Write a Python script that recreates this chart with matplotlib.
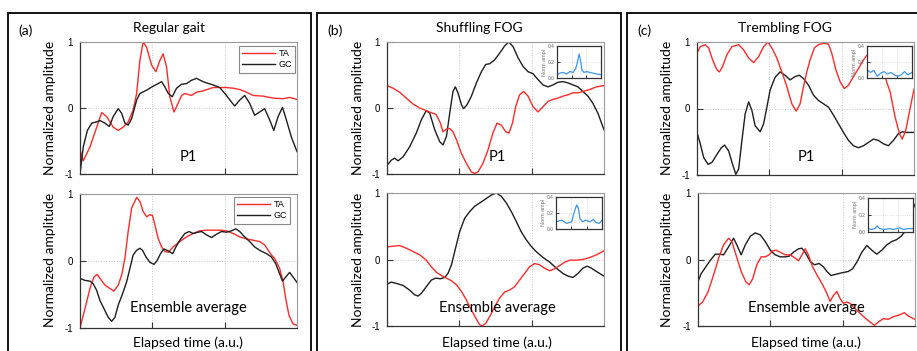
import matplotlib
matplotlib.use('Agg')
import matplotlib.pyplot as plt
from matplotlib.patches import Rectangle

# ---------------- data (normalized elapsed time 0..1, normalized amplitude) ----------------
a1_ta_t = [0, .015, .046, .077, .100, .123, .153, .176, .199, .222, .245, .261, .276, .291, .307, .330, .350, .368, .383, .399,
           .414, .433, .445, .468, .483, .514, .537, .567, .613, .675, .706, .736, .767, .798, .844, .890, .936, .966, 1.0]
a1_ta_y = [-0.64, -0.80, -0.59, -0.29, -0.07, -0.13, -0.29, -0.34, -0.29, -0.21, -0.03, 0.22, 0.72, 1.0, 0.92, 0.65, 0.55, 0.72, 0.82, 0.62,
           0.17, -0.06, 0.02, 0.19, 0.22, 0.19, 0.24, 0.26, 0.31, 0.31, 0.30, 0.28, 0.24, 0.19, 0.18, 0.15, 0.14, 0.16, 0.13]
a1_gc_t = [0, .015, .034, .054, .077, .092, .115, .135, .153, .176, .192, .207, .222, .238, .261, .276, .307, .337, .360, .376,
           .391, .407, .425, .445, .468, .491, .514, .537, .560, .583, .613, .644, .675, .698, .713, .736, .759, .782, .805, .828,
           .851, .874, .893, .913, .933, .951, .974, 1.0]
a1_gc_y = [-1.0, -0.59, -0.34, -0.23, -0.21, -0.19, -0.23, -0.28, -0.13, -0.01, -0.08, -0.23, -0.26, -0.16, 0.12, 0.22, 0.27, 0.33, 0.37, 0.40,
           0.32, 0.22, 0.17, 0.30, 0.36, 0.37, 0.42, 0.45, 0.41, 0.38, 0.35, 0.31, 0.19, 0.09, 0.03, 0.12, 0.19, 0.07, -0.11, -0.06,
           -0.01, -0.18, -0.34, -0.13, 0.01, -0.18, -0.44, -0.66]

a2_ta_t = [0, .023, .046, .064, .080, .092, .115, .138, .156, .176, .192, .207, .222, .238, .261, .276, .291, .307, .322, .334,
           .345, .360, .376, .391, .407, .429, .460, .491, .521, .552, .583, .613, .644, .675, .706, .736, .767, .798, .828, .851,
           .867, .882, .897, .920, .936, .948, .963, .982, 1.0]
a2_ta_y = [-1.0, -0.71, -0.41, -0.24, -0.20, -0.26, -0.36, -0.41, -0.45, -0.36, -0.21, 0.04, 0.44, 0.79, 0.95, 0.89, 0.74, 0.66, 0.69, 0.68,
           0.54, 0.34, 0.21, 0.14, 0.13, 0.21, 0.29, 0.36, 0.41, 0.45, 0.46, 0.46, 0.46, 0.45, 0.41, 0.36, 0.33, 0.31, 0.29, 0.24,
           0.16, 0.09, 0.04, -0.11, -0.31, -0.56, -0.81, -0.94, -0.96]
a2_gc_t = [0, .023, .046, .061, .077, .092, .115, .130, .146, .161, .176, .196, .215, .230, .245, .261, .276, .288, .304, .322,
           .341, .356, .371, .387, .407, .427, .442, .460, .483, .503, .521, .544, .560, .583, .606, .629, .652, .675, .698, .718,
           .736, .759, .782, .805, .828, .859, .882, .902, .920, .933, .948, .966, .982, 1.0]
a2_gc_y = [-0.26, -0.29, -0.30, -0.34, -0.44, -0.59, -0.74, -0.84, -0.90, -0.84, -0.66, -0.49, -0.31, -0.11, 0.09, 0.16, 0.19, 0.16, 0.06, -0.02,
           -0.05, 0.01, 0.11, 0.18, 0.15, 0.11, 0.21, 0.31, 0.41, 0.44, 0.41, 0.43, 0.44, 0.39, 0.35, 0.40, 0.44, 0.43, 0.45, 0.48,
           0.44, 0.36, 0.29, 0.21, 0.16, 0.11, 0.06, -0.04, -0.19, -0.30, -0.24, -0.17, -0.24, -0.32]

b1_gc_t = [0, .020, .035, .051, .074, .104, .135, .158, .181, .197, .220, .243, .258, .274, .289, .304, .315, .327, .343, .353,
           .369, .389, .412, .435, .455, .473, .496, .519, .542, .561, .581, .604, .627, .650, .673, .696, .719, .742, .765, .788,
           .811, .834, .857, .880, .903, .926, .949, .972, 1.0]
b1_gc_y = [-0.87, -0.79, -0.76, -0.80, -0.74, -0.59, -0.38, -0.18, -0.04, -0.08, -0.33, -0.51, -0.56, -0.43, -0.08, 0.25, 0.32, 0.23, 0.05, -0.01,
           0.05, 0.18, 0.38, 0.55, 0.66, 0.67, 0.73, 0.83, 0.94, 1.0, 0.93, 0.76, 0.63, 0.55, 0.52, 0.43, 0.35, 0.32, 0.35, 0.39,
           0.40, 0.38, 0.35, 0.32, 0.25, 0.18, 0.07, -0.08, -0.33]
b1_ta_t = [0, .028, .058, .089, .120, .151, .181, .204, .227, .246, .258, .274, .289, .304, .320, .343, .366, .389, .404, .419,
           .442, .465, .488, .507, .527, .547, .562, .578, .593, .611, .630, .650, .673, .696, .719, .742, .765, .788, .811, .834,
           .857, .880, .903, .934, .965, 1.0]
b1_ta_y = [0.34, 0.30, 0.24, 0.15, 0.06, 0.0, -0.04, -0.07, -0.10, -0.23, -0.36, -0.32, -0.31, -0.36, -0.48, -0.69, -0.84, -0.97, -0.99, -0.97,
           -0.84, -0.64, -0.38, -0.23, -0.26, -0.36, -0.38, -0.23, 0.02, 0.20, 0.25, 0.18, 0.02, -0.06, 0.02, 0.10, 0.13, 0.15, 0.18, 0.20,
           0.23, 0.23, 0.25, 0.28, 0.32, 0.34]

b2_gc_t = [0, .020, .043, .074, .104, .127, .143, .158, .181, .204, .224, .246, .266, .281, .297, .312, .335, .358, .381, .404,
           .427, .450, .481, .504, .527, .550, .573, .596, .618, .641, .664, .687, .719, .750, .780, .811, .834, .857, .880, .903,
           .922, .942, .965, 1.0]
b2_gc_y = [-0.37, -0.34, -0.36, -0.39, -0.46, -0.53, -0.55, -0.51, -0.41, -0.31, -0.28, -0.29, -0.27, -0.21, -0.08, 0.12, 0.42, 0.62, 0.72, 0.80,
           0.85, 0.90, 0.97, 1.0, 0.95, 0.85, 0.72, 0.57, 0.42, 0.30, 0.20, 0.12, 0.03, -0.04, -0.13, -0.21, -0.25, -0.27, -0.21, -0.13,
           -0.10, -0.13, -0.18, -0.25]
b2_ta_t = [0, .028, .058, .089, .120, .151, .181, .204, .227, .250, .274, .297, .320, .343, .366, .389, .409, .427, .439, .455,
           .473, .496, .519, .542, .565, .588, .611, .634, .657, .680, .703, .726, .750, .772, .796, .819, .842, .873, .903, .934,
           .965, 1.0]
b2_ta_y = [0.19, 0.20, 0.21, 0.17, 0.12, 0.07, -0.01, -0.11, -0.19, -0.24, -0.28, -0.32, -0.38, -0.48, -0.61, -0.76, -0.88, -0.98, -1.0, -0.96,
           -0.86, -0.71, -0.58, -0.49, -0.46, -0.41, -0.31, -0.21, -0.11, -0.06, -0.08, -0.13, -0.17, -0.14, -0.09, -0.04, -0.01, -0.01, 0.0, 0.03,
           0.07, 0.13]

c1_ta_t = [0, .015, .038, .054, .072, .092, .103, .118, .138, .161, .192, .215, .238, .261, .284, .307, .327, .345, .368, .391,
           .414, .437, .457, .475, .491, .506, .521, .541, .560, .583, .606, .621, .640, .660, .679, .698, .721, .744, .767, .790,
           .813, .836, .859, .874, .890, .913, .933, .946, .962, .977, 1.0]
c1_ta_y = [0.83, 0.93, 0.96, 0.91, 0.73, 0.58, 0.55, 0.63, 0.81, 0.93, 0.96, 0.88, 0.76, 0.69, 0.78, 0.93, 1.0, 0.91, 0.76, 0.55,
           0.33, 0.07, -0.04, 0.07, 0.33, 0.55, 0.73, 0.91, 0.96, 0.98, 0.97, 0.83, 0.58, 0.40, 0.30, 0.35, 0.48, 0.60, 0.73, 0.83,
           0.93, 0.88, 0.60, 0.40, 0.25, -0.13, -0.38, -0.46, -0.33, -0.08, 0.29]
c1_gc_t = [0, .015, .031, .051, .069, .092, .112, .127, .146, .164, .179, .192, .207, .222, .238, .253, .268, .291, .307, .322,
           .337, .360, .383, .406, .429, .452, .472, .491, .514, .537, .560, .583, .606, .629, .652, .675, .698, .721, .744, .767,
           .790, .813, .836, .859, .882, .905, .928, .946, .966, 1.0]
c1_gc_y = [-0.36, -0.53, -0.74, -0.84, -0.81, -0.69, -0.59, -0.55, -0.64, -0.84, -0.99, -0.91, -0.48, -0.08, 0.10, -0.03, -0.26, -0.35, -0.23, 0.02,
           0.28, 0.47, 0.55, 0.50, 0.43, 0.48, 0.50, 0.45, 0.35, 0.20, 0.12, 0.07, 0.02, -0.10, -0.23, -0.36, -0.48, -0.56, -0.59, -0.56,
           -0.51, -0.46, -0.48, -0.53, -0.56, -0.48, -0.38, -0.35, -0.36, -0.36]

c2_gc_t = [0, .015, .034, .057, .080, .103, .118, .141, .164, .179, .199, .218, .241, .264, .287, .310, .333, .356, .379, .402,
           .420, .440, .463, .479, .497, .517, .537, .558, .578, .594, .613, .639, .663, .693, .712, .732, .755, .778, .801, .824,
           .847, .870, .893, .916, .936, .954, .969, .985, 1.0]
c2_gc_y = [-0.33, -0.21, -0.12, -0.01, 0.08, 0.08, 0.07, 0.19, 0.32, 0.22, 0.07, 0.22, 0.35, 0.40, 0.37, 0.27, 0.14, 0.07, 0.04, 0.04,
           0.05, 0.11, 0.16, 0.17, 0.09, -0.03, -0.08, -0.06, -0.11, -0.18, -0.24, -0.22, -0.20, -0.18, -0.14, -0.04, 0.11, 0.21, 0.14, 0.08,
           0.14, 0.22, 0.27, 0.30, 0.35, 0.42, 0.57, 0.72, 0.83]
c2_ta_t = [0, .021, .046, .072, .095, .118, .141, .156, .175, .199, .221, .236, .252, .271, .291, .310, .328, .344, .359, .379,
           .402, .425, .448, .463, .479, .494, .509, .528, .548, .571, .594, .609, .624, .640, .655, .670, .686, .701, .724, .747,
           .770, .793, .813, .831, .854, .877, .900, .931, .951, .969, 1.0]
c2_ta_y = [-0.70, -0.64, -0.49, -0.23, 0.02, 0.22, 0.32, 0.27, 0.07, -0.18, -0.34, -0.38, -0.29, -0.08, 0.04, 0.04, 0.07, 0.13, 0.14, 0.11,
           0.07, 0.07, 0.02, -0.02, 0.07, 0.16, 0.07, -0.11, -0.23, -0.36, -0.51, -0.63, -0.54, -0.48, -0.59, -0.66, -0.64, -0.66, -0.74, -0.81,
           -0.88, -0.94, -0.99, -0.94, -0.89, -0.90, -0.86, -0.83, -0.80, -0.85, -0.90]

# inset spectra (normalized frequency 0..1, normalized amplitude)
b1_sp_f = [0, .061, .137, .214, .290, .366, .427, .466, .504, .534, .565, .611, .672, .748, .824, .901, 1.0]
b1_sp_y = [0.04, 0.06, 0.07, 0.05, 0.08, 0.07, 0.12, 0.20, 0.30, 0.22, 0.10, 0.07, 0.08, 0.07, 0.06, 0.05, 0.04]
b2_sp_f = [0, .123, .232, .341, .377, .413, .449, .486, .522, .580, .652, .739, .812, .870, .942, 1.0]
b2_sp_y = [0.09, 0.11, 0.07, 0.09, 0.17, 0.24, 0.30, 0.26, 0.13, 0.09, 0.11, 0.09, 0.12, 0.08, 0.07, 0.11]
c1_sp_f = [0, .076, .152, .227, .303, .379, .455, .530, .606, .682, .758, .833, .909, 1.0]
c1_sp_y = [0.10, 0.07, 0.095, 0.02, 0.06, 0.08, 0.05, 0.07, 0.04, 0.02, 0.04, 0.08, 0.04, 0.07]
c2_sp_f = [0, .076, .152, .205, .258, .356, .470, .583, .697, .788, .886, 1.0]
c2_sp_y = [0.04, 0.03, 0.04, 0.07, 0.04, 0.03, 0.04, 0.03, 0.05, 0.03, 0.04, 0.04]

panel_labels = ['(a)', '(b)', '(c)']
titles = ['Regular gait', 'Shuffling FOG', 'Trembling FOG']
series_labels = ['TA', 'GC']
yticks = [-1, 0, 1]
ytick_labels = ['-1', '0', '1']
sp_ticks = [0.0, 0.2, 0.4]
sp_tick_labels = ['0.0', '0.2', '0.4']

RED = '#ff2b2b'
BLK = '#1e1e1e'
BLUE = '#3d95f0'
TXT_FONT = 'Lato'
NUM_FONT = 'Liberation Sans'

W, H = 917, 351
fig = plt.figure(figsize=(W / 100, H / 100), dpi=100)
fig.patch.set_facecolor('white')


def ax_px(l, t, r, b):
    return fig.add_axes([l / W, 1 - b / H, (r - l) / W, (b - t) / H])


def fx(x):
    return x / W


def fy(y):
    return 1 - y / H


# panel boxes
for l, r in [(8, 311), (317, 621), (627, 940)]:
    fig.patches.append(Rectangle((fx(l), fy(380)), fx(r) - fx(l), fy(13) - fy(380),
                                 transform=fig.transFigure, fill=False, ec='black', lw=1.3, zorder=0))


def style_main(ax):
    ax.set_xlim(0, 1)
    ax.set_ylim(-1, 1)
    ax.set_xticks([1 / 3, 2 / 3])
    ax.set_xticklabels([])
    ax.set_yticks(yticks)
    ax.set_yticklabels(ytick_labels, fontfamily=NUM_FONT, fontsize=7)
    ax.tick_params(direction='in', length=4, width=0.8, pad=5, colors='#333333')
    ax.tick_params(axis='y', labelcolor='black')
    ax.grid(True, ls=':', color='#c8c8c8', lw=0.7)
    ax.set_axisbelow(True)
    for s in ['left', 'bottom']:
        ax.spines[s].set_color('#333333')
        ax.spines[s].set_linewidth(0.9)
    for s in ['top', 'right']:
        ax.spines[s].set_color('#9a9a9a')
        ax.spines[s].set_linewidth(0.8)


def style_inset(ax):
    ax.set_xlim(0, 1)
    ax.set_ylim(0, 0.4)
    ax.set_xticks([1 / 3, 2 / 3])
    ax.set_xticklabels([])
    ax.set_yticks(sp_ticks)
    ax.set_yticklabels(sp_tick_labels, fontfamily=NUM_FONT, fontsize=3.5, color='#666666')
    ax.tick_params(direction='in', length=2.5, width=0.7, pad=1.5, colors='#333333')
    ax.tick_params(axis='y', labelcolor='#666666')
    ax.grid(True, ls=':', color='#cccccc', lw=0.5)
    ax.set_axisbelow(True)
    for s in ax.spines.values():
        s.set_color('#333333')
        s.set_linewidth(0.9)
    ax.set_ylabel('Norm ampl', fontfamily=NUM_FONT, fontsize=4, color='#777777', labelpad=1)


main_axes = {
    'a1': (80, 42, 297, 174), 'a2': (80, 194, 297, 328),
    'b1': (387, 42, 604, 174), 'b2': (387, 193, 604, 326),
    'c1': (697, 42, 914, 175), 'c2': (698, 193, 915, 326),
}
curves = {
    'a1': [(a1_ta_t, a1_ta_y, RED), (a1_gc_t, a1_gc_y, BLK)],
    'a2': [(a2_ta_t, a2_ta_y, RED), (a2_gc_t, a2_gc_y, BLK)],
    'b1': [(b1_gc_t, b1_gc_y, BLK), (b1_ta_t, b1_ta_y, RED)],
    'b2': [(b2_gc_t, b2_gc_y, BLK), (b2_ta_t, b2_ta_y, RED)],
    'c1': [(c1_gc_t, c1_gc_y, BLK), (c1_ta_t, c1_ta_y, RED)],
    'c2': [(c2_gc_t, c2_gc_y, BLK), (c2_ta_t, c2_ta_y, RED)],
}
axes = {}
for key, box in main_axes.items():
    ax = ax_px(*box)
    style_main(ax)
    for t, y, c in curves[key]:
        ax.plot(t, y, color=c, lw=1.0, solid_joinstyle='round')
    axes[key] = ax

# legends in panel (a)
for key, (rx, ty) in [('a1', (295, 46)), ('a2', (290, 197))]:
    ax = axes[key]
    h_ta, = [l for l in ax.lines if l.get_color() == RED]
    h_gc, = [l for l in ax.lines if l.get_color() == BLK]
    leg = ax.legend([h_ta, h_gc], series_labels, loc='upper right',
                    bbox_to_anchor=(fx(rx), fy(ty)), bbox_transform=fig.transFigure,
                    prop={'family': NUM_FONT, 'size': 6.5}, frameon=True, fancybox=False,
                    edgecolor='#888888', framealpha=1, handlelength=3.6, handletextpad=0.4,
                    borderpad=0.35, labelspacing=0.25, borderaxespad=0)
    leg.get_frame().set_linewidth(0.8)

# insets
insets = {
    'b1': ((557, 46, 601, 78), b1_sp_f, b1_sp_y),
    'b2': ((556, 197, 602, 229), b2_sp_f, b2_sp_y),
    'c1': ((867, 46, 912, 78), c1_sp_f, c1_sp_y),
    'c2': ((868, 198, 913, 232), c2_sp_f, c2_sp_y),
}
for key, (box, f, y) in insets.items():
    iax = ax_px(*box)
    style_inset(iax)
    iax.plot(f, y, color=BLUE, lw=0.9)

# texts
panel_x = [18, 327, 637]
title_x = [169, 479, 785]
center_x = [188, 497, 806]
ylab_x = [50, 358, 667]
for i in range(3):
    fig.text(fx(panel_x[i]), fy(31), panel_labels[i], fontfamily=TXT_FONT, fontsize=10, va='center', ha='left')
    fig.text(fx(title_x[i]), fy(28), titles[i], fontfamily=TXT_FONT, fontsize=10, va='center', ha='center')
    fig.text(fx(center_x[i]), fy(157), 'P1', fontfamily=TXT_FONT, fontsize=10.5, va='center', ha='center')
    fig.text(fx(center_x[i]), fy(308), 'Ensemble average', fontfamily=TXT_FONT, fontsize=10.5, va='center', ha='center')
    fig.text(fx(center_x[i]), fy(343), 'Elapsed time (a.u.)', fontfamily=TXT_FONT, fontsize=10, va='center', ha='center')
    fig.text(fx(ylab_x[i]), fy(108), 'Normalized amplitude', fontfamily=TXT_FONT, fontsize=10,
             va='center', ha='center', rotation=90)
    fig.text(fx(ylab_x[i]), fy(260), 'Normalized amplitude', fontfamily=TXT_FONT, fontsize=10,
             va='center', ha='center', rotation=90)

fig.savefig('out.png', dpi=100)
